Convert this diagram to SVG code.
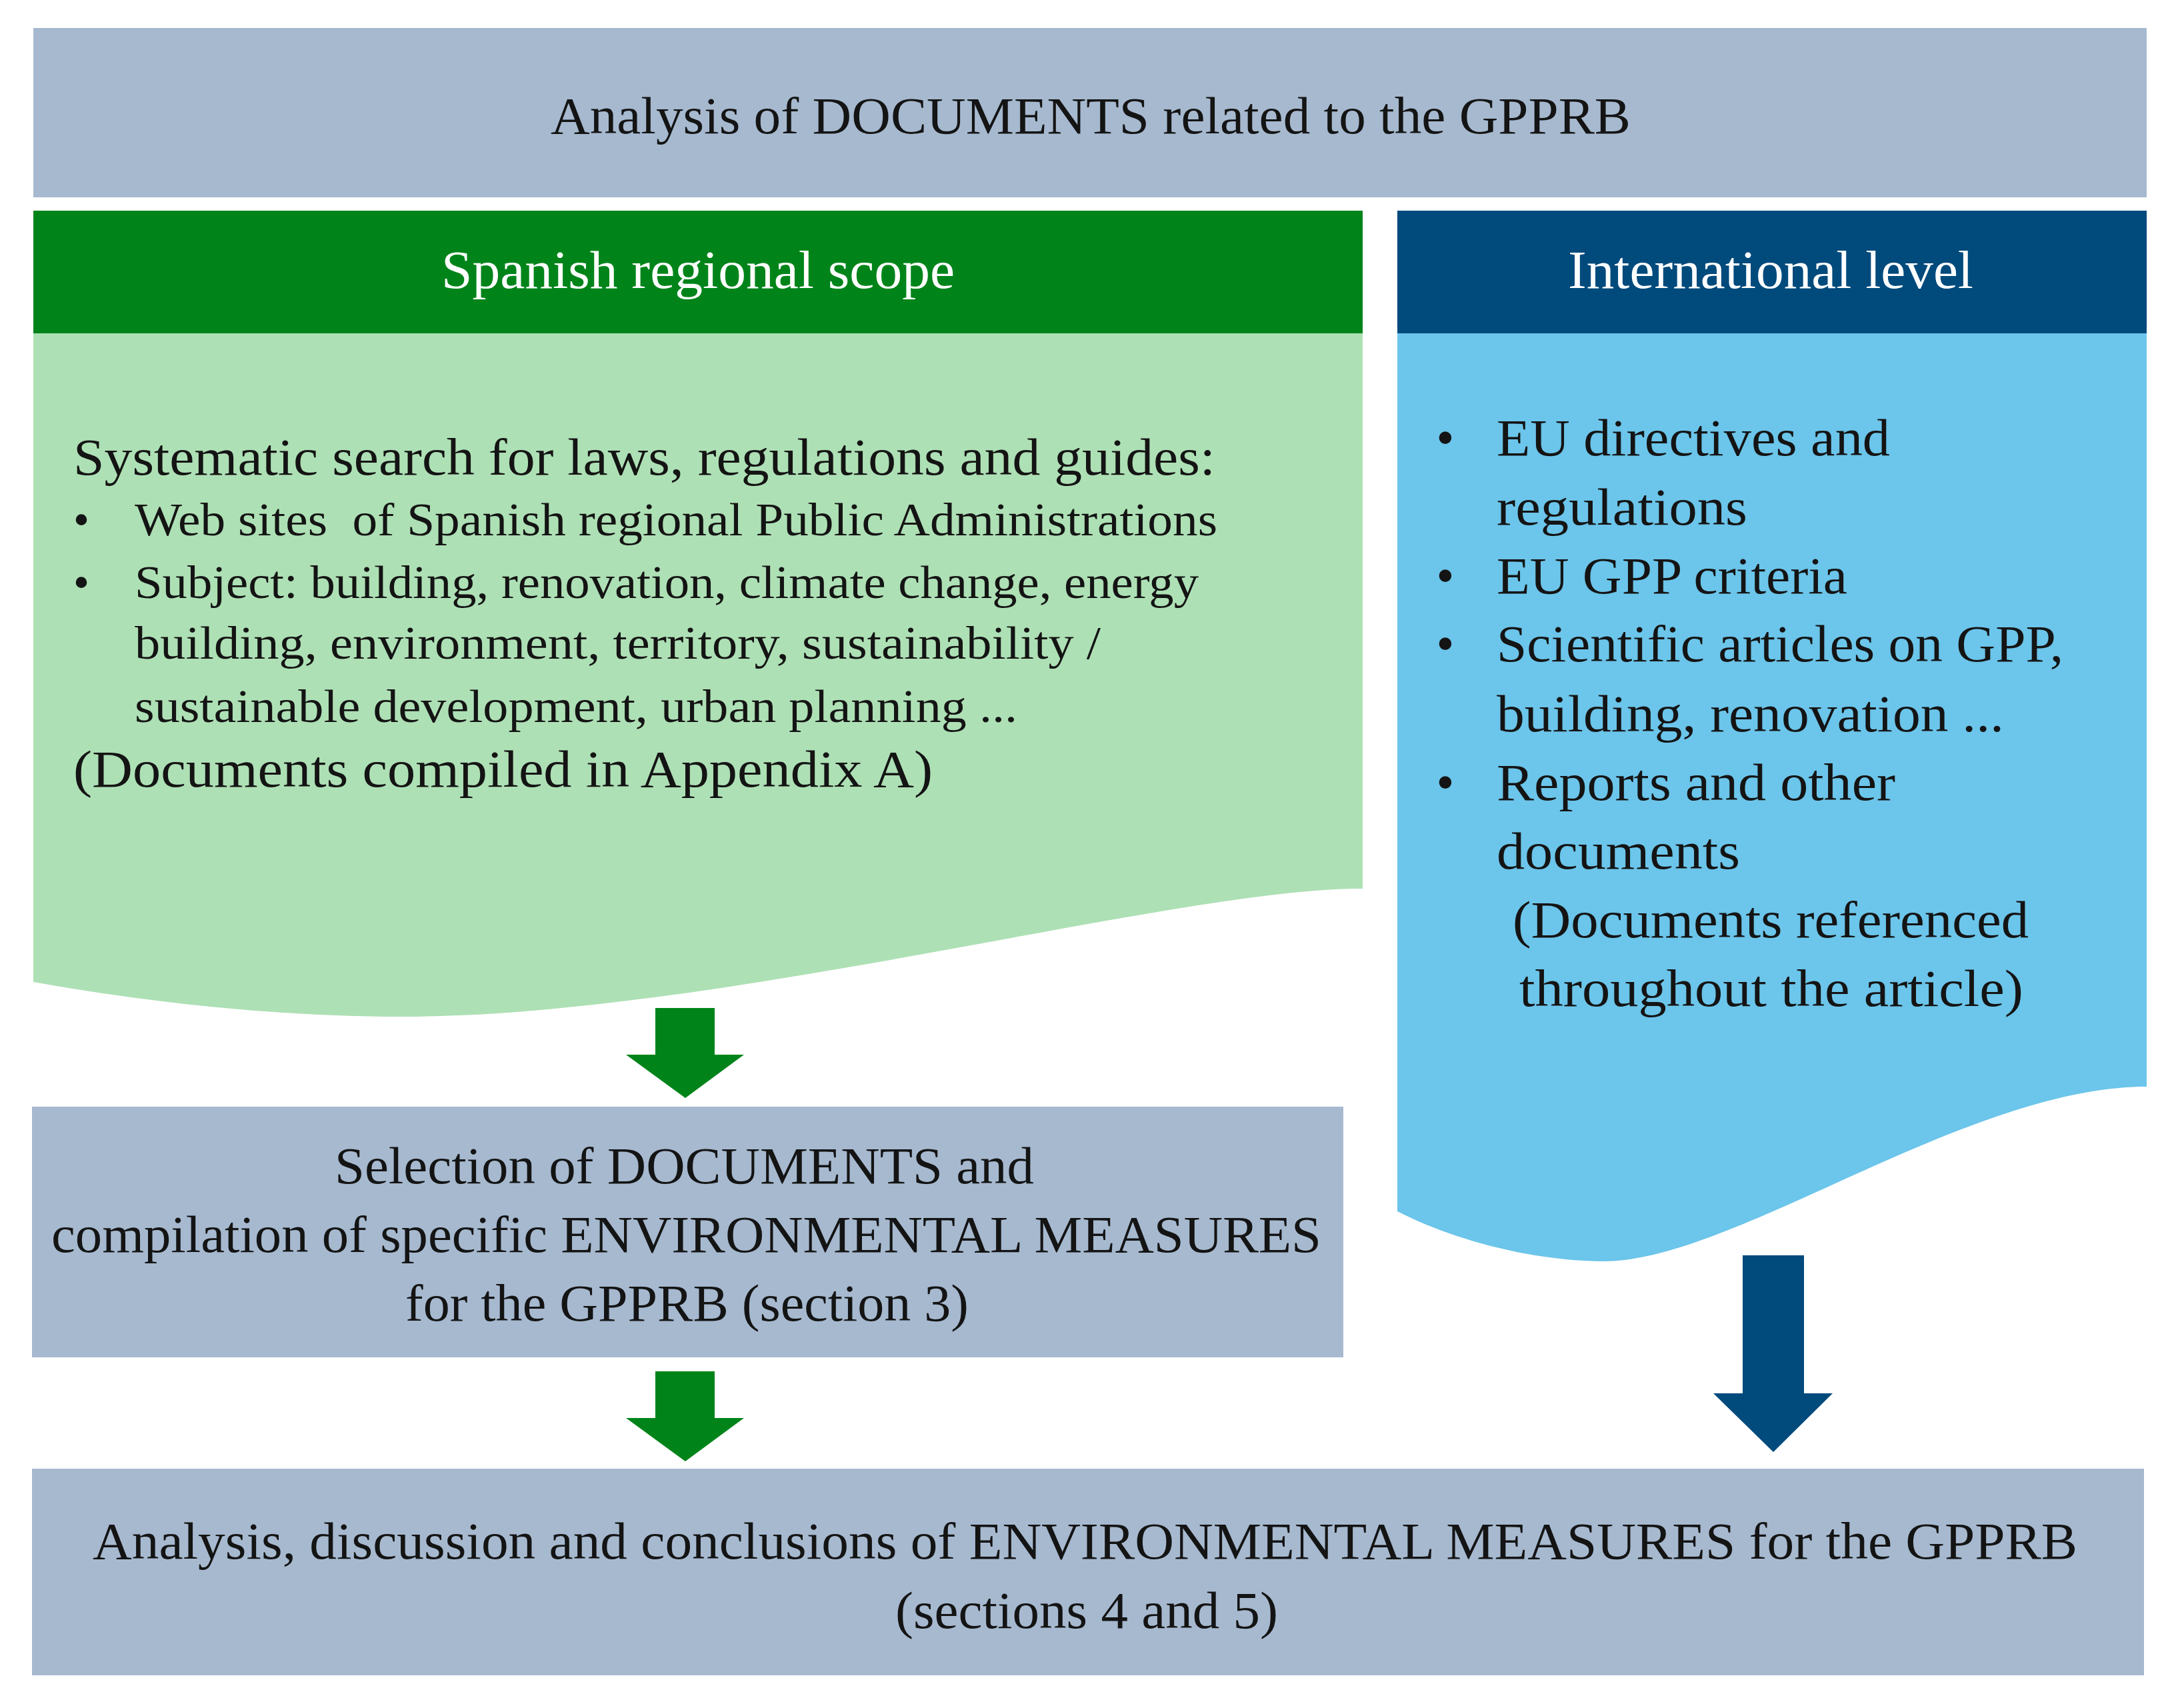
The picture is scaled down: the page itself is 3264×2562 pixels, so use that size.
<svg xmlns="http://www.w3.org/2000/svg" width="3264" height="2562" viewBox="0 0 3264 2562">
<style>
.t{font-family:"Liberation Serif","Times New Roman",serif;fill:#141414}
.w{fill:#ffffff}
.s78{font-size:78px}
.s70{font-size:70px}
.s80{font-size:80px}
.gray{fill:#a6b9cf}
.gdark{fill:#00841a}
.glight{fill:#aee0b5}
.bdark{fill:#004a7c}
.blight{fill:#6cc5ea}
</style>
<rect x="0" y="0" width="3264" height="2562" fill="#ffffff"/>
<g id="documents-analysis">
<rect class="gray" x="50" y="42" width="3170" height="254"/>
<text class="t s78" x="826" y="200" textLength="1620" lengthAdjust="spacingAndGlyphs">Analysis of DOCUMENTS related to the GPPRB</text>
</g>
<g id="spanish-scope">
<path class="glight" d="M50,500 H2044 V1333 C1760,1333 1080,1525 603,1525 C420,1525 230,1505 50,1473 Z"/>
<rect class="gdark" x="50" y="316" width="1994" height="184"/>
<text class="t w s80" x="662" y="432" textLength="770" lengthAdjust="spacingAndGlyphs">Spanish regional scope</text>
<text class="t s78" x="110" y="712" textLength="1713" lengthAdjust="spacingAndGlyphs">Systematic search for laws, regulations and guides:</text>
<text class="t s70" x="122" y="803" text-anchor="middle">•</text>
<text class="t s70" x="202" y="803" textLength="1624" lengthAdjust="spacingAndGlyphs">Web sites&#160; of Spanish regional Public Administrations</text>
<text class="t s70" x="122" y="897" text-anchor="middle">•</text>
<text class="t s70" x="202" y="897" textLength="1596" lengthAdjust="spacingAndGlyphs">Subject: building, renovation, climate change, energy</text>
<text class="t s70" x="202" y="988" textLength="1449" lengthAdjust="spacingAndGlyphs">building, environment, territory, sustainability /</text>
<text class="t s70" x="202" y="1083" textLength="1324" lengthAdjust="spacingAndGlyphs">sustainable development, urban planning ...</text>
<text class="t s78" x="110" y="1180" textLength="1289" lengthAdjust="spacingAndGlyphs">(Documents compiled in Appendix A)</text>
</g>
<g id="international-level">
<path class="blight" d="M2096,500 H3220 V1630 C2950,1630 2600,1892 2406,1892 C2300,1892 2180,1860 2096,1817 Z"/>
<rect class="bdark" x="2096" y="316" width="1124" height="184"/>
<text class="t w s80" x="2352" y="432" textLength="608" lengthAdjust="spacingAndGlyphs">International level</text>
<text class="t s78" x="2168" y="683" text-anchor="middle">•</text>
<text class="t s78" x="2245" y="683" textLength="590" lengthAdjust="spacingAndGlyphs">EU directives and</text>
<text class="t s78" x="2245" y="787" textLength="376" lengthAdjust="spacingAndGlyphs">regulations</text>
<text class="t s78" x="2168" y="890" text-anchor="middle">•</text>
<text class="t s78" x="2245" y="890" textLength="526" lengthAdjust="spacingAndGlyphs">EU GPP criteria</text>
<text class="t s78" x="2168" y="992" text-anchor="middle">•</text>
<text class="t s78" x="2245" y="992" textLength="850" lengthAdjust="spacingAndGlyphs">Scientific articles on GPP,</text>
<text class="t s78" x="2245" y="1097" textLength="761" lengthAdjust="spacingAndGlyphs">building, renovation ...</text>
<text class="t s78" x="2168" y="1200" text-anchor="middle">•</text>
<text class="t s78" x="2245" y="1200" textLength="598" lengthAdjust="spacingAndGlyphs">Reports and other</text>
<text class="t s78" x="2245" y="1303" textLength="365" lengthAdjust="spacingAndGlyphs">documents</text>
<text class="t s78" x="2269" y="1406" textLength="774" lengthAdjust="spacingAndGlyphs">(Documents referenced</text>
<text class="t s78" x="2279" y="1509" textLength="756" lengthAdjust="spacingAndGlyphs">throughout the article)</text>
</g>
<g id="selection">
<rect class="gray" x="48" y="1660" width="1967" height="376"/>
<text class="t s78" x="502" y="1775" textLength="1049" lengthAdjust="spacingAndGlyphs">Selection of DOCUMENTS and</text>
<text class="t s78" x="77" y="1878" textLength="1905" lengthAdjust="spacingAndGlyphs">compilation of specific ENVIRONMENTAL MEASURES</text>
<text class="t s78" x="608" y="1981" textLength="845" lengthAdjust="spacingAndGlyphs">for the GPPRB (section 3)</text>
</g>
<g id="conclusions">
<rect class="gray" x="48" y="2203" width="3168" height="310"/>
<text class="t s78" x="139" y="2338" textLength="2977" lengthAdjust="spacingAndGlyphs">Analysis, discussion and conclusions of ENVIRONMENTAL MEASURES for the GPPRB</text>
<text class="t s78" x="1343" y="2442" textLength="574" lengthAdjust="spacingAndGlyphs">(sections 4 and 5)</text>
</g>
<g id="connectors">
<polygon class="gdark" points="983,1512 1072,1512 1072,1582 1116,1582 1028,1647 939,1582 983,1582"/>
<polygon class="gdark" points="983,2057 1072,2057 1072,2127 1116,2127 1028,2192 939,2127 983,2127"/>
<polygon class="bdark" points="2614,1883 2706,1883 2706,2090 2749,2090 2660,2178 2570,2090 2614,2090"/>
</g>
</svg>
